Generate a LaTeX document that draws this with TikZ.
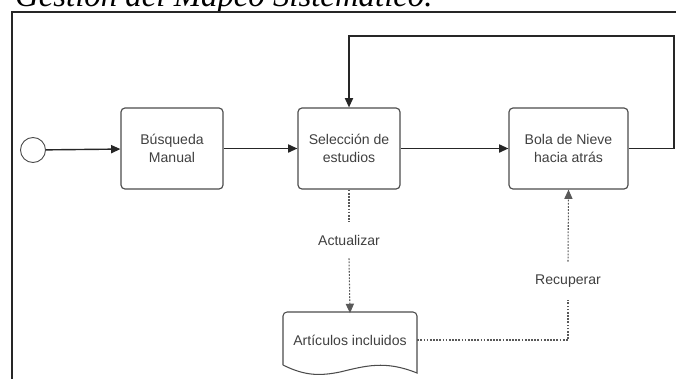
\documentclass[tikz,border=0pt]{standalone}
\usepackage{fontspec}
\setmainfont{Liberation Sans}
\newfontfamily\titlefont{Liberation Serif}
\usetikzlibrary{arrows.meta}

\tikzset{
	tarea/.style={draw=black!70, line width=1pt, rounded corners=0.12cm,
		minimum width=3.06cm, minimum height=2.43cm, align=center,
		text=black!75, font=\fontsize{12}{15.5}\selectfont},
	flujo/.style={draw=black!85, line width=1.2pt, -{Triangle[length=8pt,width=7pt]}},
	datos/.style={draw=black!65, line width=0.9pt, dash pattern=on 1.5pt off 1.2pt},
	etiqueta/.style={text=black!75, font=\fontsize{12}{14}\selectfont, inner ysep=11pt}
}

\begin{document}
\begin{tikzpicture}[x=0.03cm, y=-0.03cm]

	\useasboundingbox (0,0) rectangle (676,378);

	% titulo (cortado arriba) y marco
	\node[anchor=base west, inner sep=0pt, font=\titlefont\itshape\fontsize{28}{32}\selectfont]
		(titulo) at (15,6) {Gestión del Mapeo Sistemático.};
	\draw [black!85, line width=1.3pt] (12,395) -- (12,12) -- (690,12);

	\node[circle, draw=black!70, line width=0.8pt, minimum size=0.75cm, inner sep=0pt] (inicio) at (33,150) {};
	\node[tarea] (busqueda) at (172,148.5) {Búsqueda\\Manual};
	\node[tarea] (seleccion) at (349,148.5) {Selección de\\estudios};
	\node[tarea, minimum width=3.57cm] (bola) at (568.5,148.5) {Bola de Nieve\\hacia atrás};

	\draw [flujo] (inicio) -- (busqueda);
	\draw [flujo] (busqueda) -- (seleccion);
	\draw [flujo] (seleccion) -- (bola);

	% vuelta hacia la seleccion
	\coordinate (vuelta) at (674,36);
	\draw [flujo] (bola.east) -| (vuelta) -| (seleccion.north);

	% documento
	\node[text=black!75, font=\fontsize{12}{14}\selectfont, minimum width=4.02cm, minimum height=1.6cm]
		(articulos) at (350,340) {Artículos incluidos};
	\draw [black!70, line width=0.9pt]
		(283,365) [rounded corners=0.12cm] -- (283,312) -- (417,312) [sharp corners] -- (417,373)
		.. controls (385,360) and (365,366) .. (340,372)
		.. controls (320,376) and (305,376) .. (283,365);

	\node[etiqueta] (actualizar) at (349,240) {Actualizar};
	\node[etiqueta] (recuperar) at (568,281) {Recuperar};

	\draw [datos] (seleccion.south) -- (actualizar.north);
	\draw [datos, -{Triangle[length=8pt,width=7pt]}] (actualizar.south) -- (articulos.north);
	\draw [datos] (articulos.east) -| (recuperar.south);
	\draw [datos, -{Triangle[length=8pt,width=7pt]}] (recuperar.north) -- (bola.south);

\end{tikzpicture}
\end{document}
